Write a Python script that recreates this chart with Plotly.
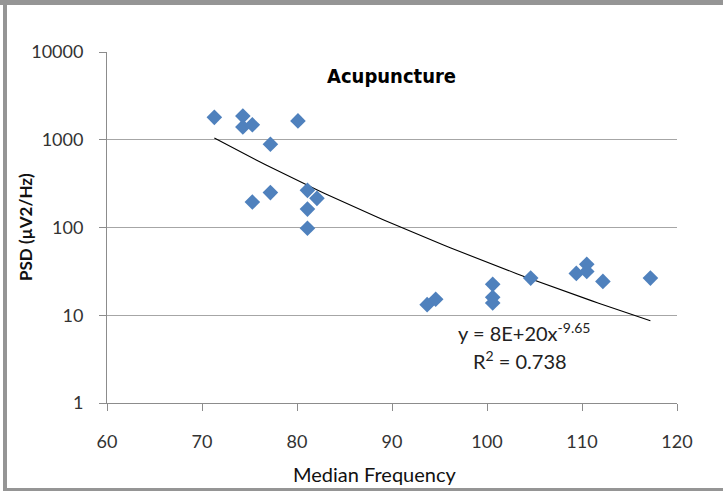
import numpy as np
import plotly.graph_objects as go

# Data
median_freq = [71.3, 74.3, 74.3, 75.3, 77.2, 80.1, 75.3, 77.2, 81.1, 82.1, 81.1, 81.1,
               93.7, 94.6, 100.6, 100.6, 100.6, 104.6, 109.4, 110.5, 110.5, 112.2, 117.2]
psd = [1800, 1860, 1400, 1480, 890, 1640, 195, 250, 265, 215, 162, 98,
       13.2, 15.2, 22.5, 16.0, 13.8, 26.5, 30, 38, 31.5, 24.3, 26.5]
trend_coef = 8e20
trend_exp = -9.65
x_ticks = [60, 70, 80, 90, 100, 110, 120]
y_ticks = [1, 10, 100, 1000, 10000]
y_tick_text = ["1", "10", "100", "1000", "10000"]

W, H = 723, 491
L, R, T, B = 107, 46, 52, 88
pw, ph = W - L - R, H - T - B

trend_x = np.linspace(min(median_freq), max(median_freq), 60)
trend_y = trend_coef * trend_x ** trend_exp

fig = go.Figure()
fig.add_trace(go.Scatter(x=trend_x, y=trend_y, mode="lines",
                         line=dict(color="black", width=1.1), hoverinfo="skip"))
fig.add_trace(go.Scatter(x=median_freq, y=psd, mode="markers",
                         marker=dict(symbol="diamond", size=12, color="#4F81BD")))

font = "Lato, 'Open Sans', sans-serif"

def px_x(p):
    return (p - L) / pw

def px_y(p):
    return 1 - (p - T) / ph

def label(text, x, y, size, family=font, color="#222", angle=0):
    return dict(text=text, xref="paper", yref="paper", x=px_x(x), y=px_y(y),
                xanchor="center", yanchor="middle", showarrow=False, textangle=angle,
                font=dict(family=family, size=size, color=color))

gray = "#959595"
shapes = [
    dict(type="rect", xref="paper", yref="paper", x0=px_x(0), x1=px_x(W), y0=px_y(0), y1=px_y(5),
         fillcolor=gray, line=dict(width=0), layer="above"),
    dict(type="rect", xref="paper", yref="paper", x0=px_x(3), x1=px_x(7), y0=px_y(0), y1=px_y(H),
         fillcolor=gray, line=dict(width=0), layer="above"),
    dict(type="rect", xref="paper", yref="paper", x0=px_x(3), x1=px_x(W), y0=px_y(488), y1=px_y(H),
         fillcolor=gray, line=dict(width=0), layer="above"),
]

fig.update_layout(
    width=W, height=H,
    margin=dict(l=L, r=R, t=T, b=B),
    paper_bgcolor="white", plot_bgcolor="white",
    showlegend=False,
    shapes=shapes,
    font=dict(family=font, size=18, color="#222"),
    xaxis=dict(range=[60, 120], tickvals=x_ticks, showgrid=False, zeroline=False,
               showline=True, linecolor="#8c8c8c", linewidth=1,
               ticks="outside", ticklen=7, tickcolor="#8c8c8c",
               ticklabelstandoff=15,
               tickfont=dict(family=font, size=18, color="#333")),
    yaxis=dict(type="log", range=[0, 4], tickvals=y_ticks, ticktext=y_tick_text,
               showgrid=True, gridcolor="#a6a6a6", gridwidth=1, zeroline=False,
               showline=True, linecolor="#8c8c8c", linewidth=1,
               ticks="outside", ticklen=7, tickcolor="#8c8c8c",
               ticklabelstandoff=12,
               tickfont=dict(family=font, size=18, color="#333")),
    annotations=[
        label("<b>Acupuncture</b>", 391, 76, 20,
              family="'DejaVu Sans Condensed', 'Liberation Sans', sans-serif", color="black"),
        label("y = 8E+20x<sup>-9.65</sup>", 524, 332, 20),
        label("R<sup>2</sup> = 0.738", 520, 360, 20),
        label("Median Frequency", 375, 474, 20, color="#111"),
        label("<b>PSD (µV2/Hz)</b>", 25, 227, 17, color="#111", angle=-90),
    ],
)

fig.write_html("out.html", config={"displayModeBar": False},
               post_script="document.body.style.margin='0';")
